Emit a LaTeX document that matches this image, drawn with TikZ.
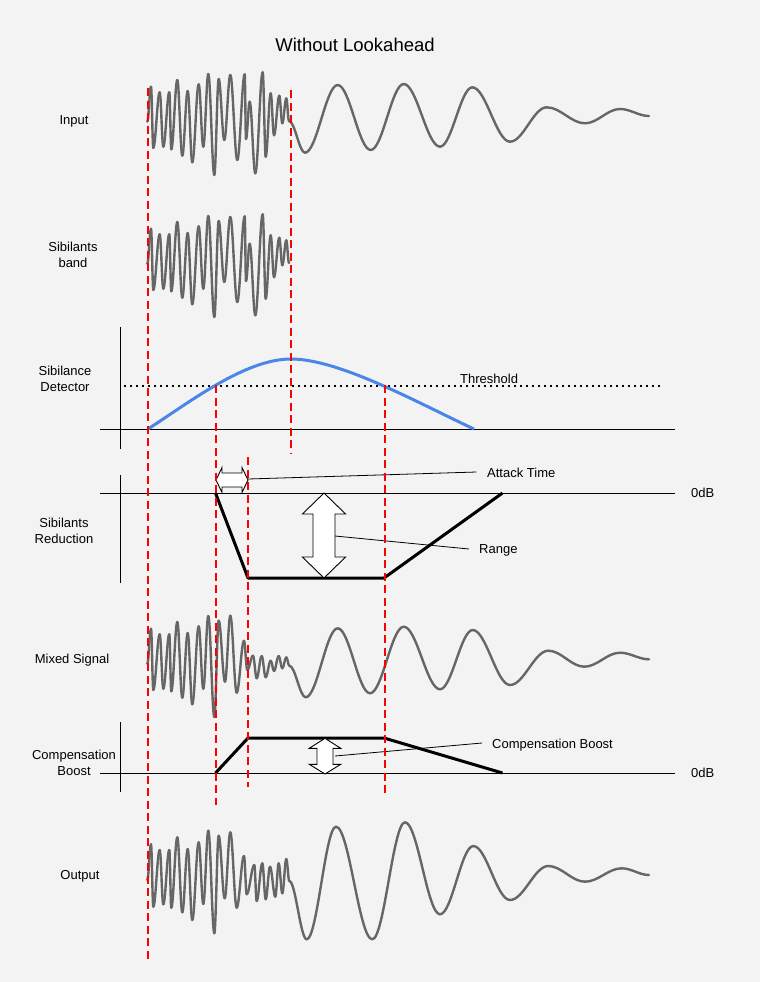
\documentclass[tikz,border=0pt]{standalone}
\usepackage{fontspec}
\setmainfont{Liberation Sans}
\definecolor{bg}{HTML}{F3F3F3}
\definecolor{wavegray}{HTML}{666666}
\definecolor{detblue}{HTML}{4A86E8}
\definecolor{guidered}{HTML}{FF0000}
\tikzset{
  wavestyle/.style={draw=wavegray, line width=2.4pt, line cap=round, line join=round},
  guide/.style={draw=guidered, line width=2pt, dash pattern=on 8pt off 4.5pt},
  axisline/.style={draw=black, line width=1pt},
  envline/.style={draw=black, line width=3pt, line join=round},
  hollowarrow/.style={draw=black, fill=white, line width=0.9pt, line join=miter},
  leader/.style={draw=black, line width=0.8pt},
  lbl/.style={font=\fontsize{13}{16}\selectfont, inner sep=0pt, align=center},
  ttl/.style={font=\fontsize{18.5}{22}\selectfont, inner sep=0pt},
}
\newcommand\sigwave[1]{%
  \foreach \x/\y [count=\i, remember=\x as \px (initially 0), remember=\y as \py (initially 0)] in {#1}{%
    \ifnum\i>1
      \pgfmathsetmacro\dx{0.3634*(\x-\px)}%
      \draw[wavestyle] (\px,\py) .. controls (\px+\dx,\py) and (\x-\dx,\y) .. (\x,\y);
    \fi
  }%
}
\begin{document}
\begin{tikzpicture}[x=1pt,y=-1pt]
\fill[bg] (0,0) rectangle (760,982);
\useasboundingbox (0,0) rectangle (760,982);

% title
\node[ttl, anchor=base] (title) at (355,52) {Without Lookahead};

% left labels
\node[lbl, anchor=base] (lInput) at (74,124.7) {Input};
\node[lbl] (lBand) at (73,255) {Sibilants\\band};
\node[lbl] (lDet) at (65,379) {Sibilance\\Detector};
\node[lbl] (lRed) at (64,531) {Sibilants\\Reduction};
\node[lbl, anchor=base] (lMix) at (72,663.7) {Mixed Signal};
\node[lbl] (lComp) at (74,763) {Compensation\\Boost};
\node[lbl, anchor=base] (lOut) at (80,879.7) {Output};

% input wave
\sigwave{147.3/121.7, 151/86.7, 153.3/148, 159.7/92.3, 163.3/146.7, 169.3/92.3, 171.3/149.3, 177.3/80, 182.3/155.7, 187.7/91, 192.3/162.3, 198.7/84.3, 203.3/146.7, 208.3/74, 214.3/175, 218.7/79, 224.3/140, 230.3/75, 237.3/160, 244.7/74.3, 246/139, 249.7/101.7, 255.3/173.3, 262.7/72.3, 265.7/156.7, 270.7/93.3, 274/135.3, 279.3/95.7, 282.3/123.3, 286.3/98.3, 289/121, 305/152.7, 337.7/85, 370.7/150, 403.7/84, 440/146.7, 472.3/87.3, 510/141.7, 546.7/107.3, 585/123.3, 620/109, 649/116}

% sibilants band
\begin{scope}[shift={(0,142)}]
\sigwave{147.3/121.7, 151/86.7, 153.3/148, 159.7/92.3, 163.3/146.7, 169.3/92.3, 171.3/149.3, 177.3/80, 182.3/155.7, 187.7/91, 192.3/162.3, 198.7/84.3, 203.3/146.7, 208.3/74, 214.3/175, 218.7/79, 224.3/140, 230.3/75, 237.3/160, 244.7/74.3, 246/139, 249.7/101.7, 255.3/173.3, 262.7/72.3, 265.7/156.7, 270.7/93.3, 274/135.3, 279.3/95.7, 282.3/123.3, 286.3/98.3, 289/121}
\end{scope}

% detector axes
\draw[axisline] (120,327) -- (120,449);
\draw[axisline] (100,429) -- (675,429);
\draw[black, line width=1.6pt, dash pattern=on 1.6pt off 4.4pt] (124,386) -- (662,386);
\node[lbl, anchor=base west] (thr) at (460,383.3) {Threshold};
\draw[detblue, line width=3pt] (148,429) .. controls (190,402) and (245,359) .. (291,359)
  .. controls (340,359) and (420,404) .. (474,429);

% reduction
\draw[axisline] (100,493) -- (675,493);
\draw[axisline] (120,475) -- (120,583);
\draw[envline] (215.5,493) -- (248,578) -- (384,578) -- (502.5,493);
\node[lbl, anchor=base west] (db1) at (691,497.7) {0dB};
\draw[hollowarrow] (216,480) -- (222,467.5) -- (222,473) -- (242,473) -- (242,467.5) -- (248,480)
  -- (242,492.5) -- (242,487) -- (222,487) -- (222,492.5) -- cycle;
\node[lbl, anchor=base west] (atk) at (487,477.3) {Attack Time};
\coordinate (atkA) at (248,479);
\coordinate (atkE) at (476.5,472);
\draw[leader] (atkA) -- (atkE);
\draw[hollowarrow] (324,493) -- (345.6,514) -- (335,514) -- (335,557) -- (345.6,557) -- (324,578)
  -- (302.4,557) -- (313,557) -- (313,514) -- (302.4,514) -- cycle;
\node[lbl, anchor=base west] (rng) at (479,553.3) {Range};
\coordinate (rngA) at (335,536);
\coordinate (rngE) at (469,549);
\draw[leader] (rngA) -- (rngE);

% mixed signal
\sigwave{147.3/663.7, 151/628.7, 153.3/690, 159.7/634.3, 163.3/688.7, 169.3/634.3, 171.3/691.3, 177.3/622, 182.3/697.7, 187.7/633, 192.3/704.3, 198.7/626.3, 203.3/688.7, 208.3/616, 214.3/717, 218.7/620.7, 225/681.7, 230.3/615.7, 236.7/692.7, 244/640.7, 247.3/670, 253/655.7, 256.7/678.3, 261.7/656, 265.7/677.3, 270.7/660.7, 274/671, 278.7/656, 282.3/668.3, 286.3/657.3, 289.3/665.7, 305.7/697.3, 337.7/628.3, 370/693.3, 403.7/626.7, 440/689.3, 472.7/630, 510/685, 548.3/650.7, 584.3/666.7, 620/652.7, 649/659.3}

% compensation
\draw[axisline] (100,773) -- (675,773);
\draw[axisline] (120,722) -- (120,792);
\draw[envline] (215.5,773) -- (248,738) -- (384,738) -- (502.5,773);
\node[lbl, anchor=base west] (db2) at (691,777.7) {0dB};
\draw[hollowarrow] (325,738.3) -- (340.7,748.3) -- (333,748.3) -- (333,764.3) -- (340.7,764.3) -- (325,774)
  -- (309.3,764.3) -- (317,764.3) -- (317,748.3) -- (309.3,748.3) -- cycle;
\node[lbl, anchor=base west] (cmpb) at (492,748.3) {Compensation Boost};
\coordinate (cmpA) at (335,756);
\coordinate (cmpE) at (482,743);
\draw[leader] (cmpA) -- (cmpE);

% output
\sigwave{147.3/880, 151/844.3, 153.3/906.7, 159.7/850, 163.3/904.3, 169.3/850, 171.3/907.7, 177.3/837.3, 182.3/912.3, 187.7/849, 192.3/920, 198.7/842.3, 203.3/904, 208.3/830.7, 214.3/933.3, 218.7/835.7, 224.7/898.3, 230.3/832.3, 236.7/907.7, 244/856, 246.7/894.3, 254.3/865, 256.7/901, 262.3/863.3, 265.7/899.3, 270/866.7, 275.3/896.7, 278.7/863.3, 282.3/893.3, 286.3/859, 289.3/881, 306.7/939.3, 336/826.7, 372.3/939.3, 405/822.3, 440/914.3, 473.3/846, 510/900, 548.3/866, 585/881.7, 621.7/868.3, 649/875}

% red guides
\draw[guide] (148,88) -- (148,962);
\draw[guide] (291,90) -- (291,453);
\draw[guide] (215.5,385) -- (215.5,805);
\draw[guide] (248,457) -- (248,787);
\draw[guide] (384.5,385) -- (384.5,797);
\end{tikzpicture}
\end{document}
